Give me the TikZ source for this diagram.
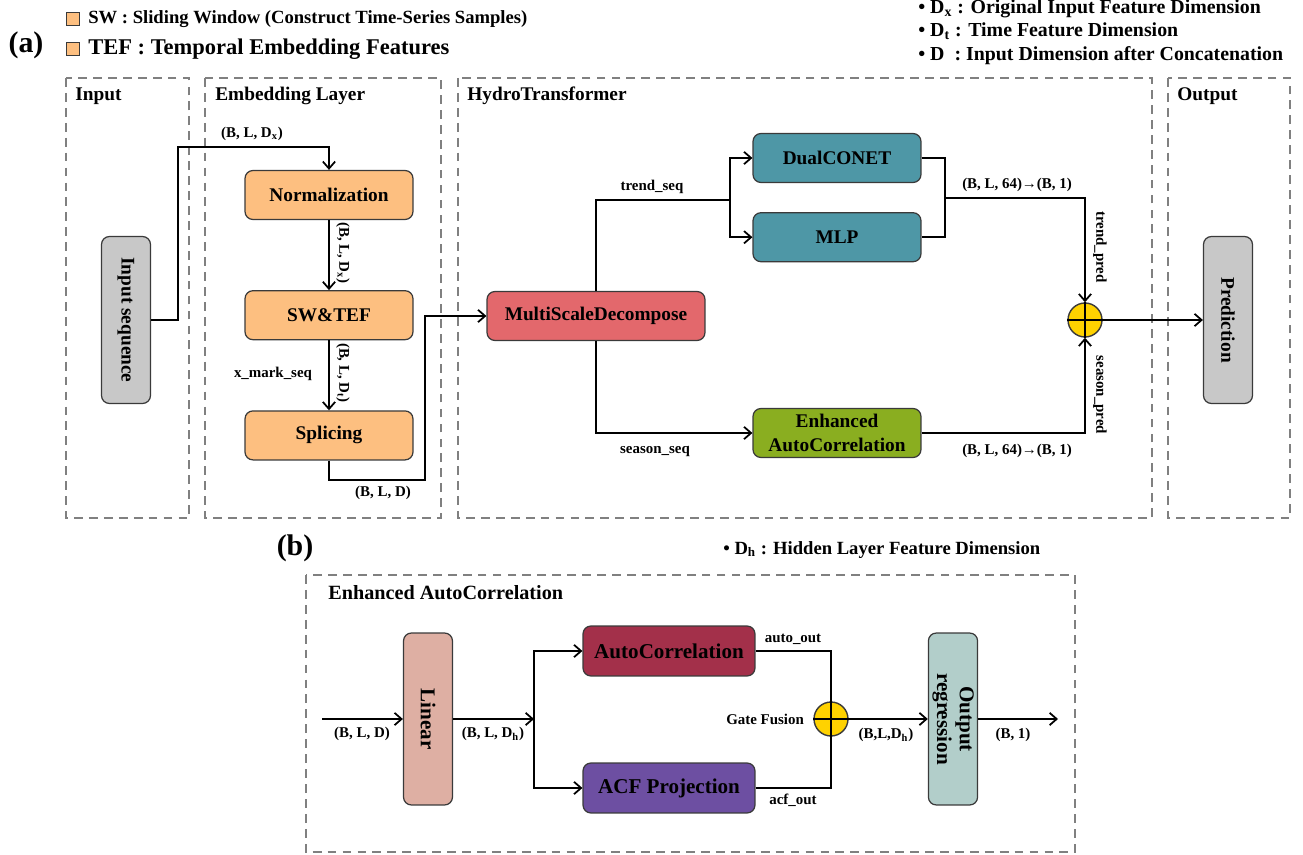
\documentclass[tikz,border=0pt]{standalone}
\usepackage{fontspec}
\setmainfont{Liberation Serif}
\usetikzlibrary{positioning,arrows.meta}
\definecolor{cOrange}{HTML}{FDBF80}
\definecolor{cGray}{HTML}{C8C8C8}
\definecolor{cRed}{HTML}{E3686C}
\definecolor{cTeal}{HTML}{4E97A6}
\definecolor{cGreen}{HTML}{8AAE20}
\definecolor{cYellow}{HTML}{FFD200}
\definecolor{cCrimson}{HTML}{A3304A}
\definecolor{cPurple}{HTML}{6D4FA2}
\definecolor{cPink}{HTML}{DEAFA3}
\definecolor{cMint}{HTML}{B2CECA}
\definecolor{cFrame}{HTML}{808080}
\definecolor{cEdge}{HTML}{3A3A3A}
\tikzset{
  blk/.style={draw=cEdge,line width=0.7pt,rounded corners=4.5pt,align=center,
    font=\fontsize{11}{14}\selectfont\bfseries,minimum width=3.36cm,minimum height=0.98cm,inner sep=1pt},
  vblk/.style={blk,minimum width=0.98cm,minimum height=3.34cm},
  frm/.style={draw=cFrame,line width=1.6pt,dash pattern=on 5pt off 3.5pt},
  ttl/.style={anchor=west,font=\fontsize{11}{13}\selectfont\bfseries,inner sep=0pt},
  lgd/.style={anchor=base west,font=\fontsize{11.3}{13}\selectfont\bfseries,inner sep=0pt},
  lbl/.style={font=\fontsize{8.5}{10}\selectfont\bfseries,inner sep=1pt},
  con/.style={line width=1pt,-{Straight Barb[length=4pt,width=7pt]}},
  wire/.style={line width=1pt},
  plus/.style={circle,draw=cEdge,fill=cYellow,line width=0.8pt,minimum size=0.68cm,inner sep=0pt},
  sq/.style={draw=cEdge,fill=cOrange,line width=0.5pt,minimum size=0.26cm,inner sep=0pt},
}
\begin{document}
\begin{tikzpicture}[x=0.02cm,y=-0.02cm]
\useasboundingbox (0,0) rectangle (1303,855);
% legends
\node[font=\fontsize{17}{20}\selectfont\bfseries] (LA) at (26,45) {(a)};
\node[sq] (LSQ1) at (73,19) {};
\node[ttl,font=\fontsize{10.6}{12}\selectfont\bfseries,right=0.16cm of LSQ1] (LSW) {SW : Sliding Window (Construct Time-Series Samples)};
\node[sq] (LSQ2) at (73,49) {};
\node[ttl,font=\fontsize{12.8}{15}\selectfont\bfseries,right=0.16cm of LSQ2] (LTEF) {TEF : Temporal Embedding Features};
\node[lgd] (LDX) at (918,14) {• D\textsubscript{x} : Original Input Feature Dimension};
\node[lgd] (LDT) at (918,37) {• D\textsubscript{t} : Time Feature Dimension};
\node[lgd] (LD) at (918,61) {• D~ : Input Dimension after Concatenation};
% (a) frames
\draw[frm] (66,78) rectangle (189,518);
\draw[frm] (205,78) rectangle (441,518);
\draw[frm] (458,78) rectangle (1152,518);
\draw[frm] (1168,78) rectangle (1290,518);
\node[ttl] (TIN) at (75,96) {Input};
\node[ttl] (TEMB) at (215,96) {Embedding Layer};
\node[ttl] (THT) at (467,96) {HydroTransformer};
\node[ttl] (TOUT) at (1177,96) {Output};
% (a) nodes
\node[vblk,fill=cGray] (NIN) at (126,320) {\rotatebox{-90}{Input sequence}};
\node[blk,fill=cOrange] (NNORM) at (329,195) {Normalization};
\node[blk,fill=cOrange,below=1.4cm of NNORM] (NSW) {SW\&TEF};
\node[blk,fill=cOrange,below=1.4cm of NSW] (NSPL) {Splicing};
\node[blk,fill=cRed,minimum width=4.36cm] (NMSD) at (596,316) {MultiScaleDecompose};
\node[blk,fill=cTeal] (NDUAL) at (837,158) {DualCONET};
\node[blk,fill=cTeal,below=0.58cm of NDUAL] (NMLP) {MLP};
\node[blk,fill=cGreen] (NEAC) at (837,433) {Enhanced\\AutoCorrelation};
\node[plus] (NADD) at (1085,320) {};
\draw[wire,line width=0.8pt] (NADD.north) -- (NADD.south) (NADD.west) -- (NADD.east);
\node[vblk,fill=cGray] (NPRED) at (1228,320) {\rotatebox{-90}{Prediction}};
% (a) connectors
\coordinate (CA1) at (178,147);
\coordinate (CA2) at (425,480);
\coordinate (CA3) at (730,200);
\coordinate (CA4) at (945,198);
\draw[con] (NIN.east) -| (CA1) -| (NNORM.north);
\draw[con] (NNORM) -- (NSW);
\draw[con] (NSW) -- (NSPL);
\draw[con] (NSPL.south) |- (CA2) |- (NMSD.west);
\draw[wire] (NMSD.north) |- (CA3);
\draw[con] (CA3) |- (NDUAL.west);
\draw[con] (CA3) |- (NMLP.west);
\draw[con] (NMSD.south) |- (NEAC.west);
\draw[wire] (NDUAL.east) -| (CA4) |- (NMLP.east);
\draw[con] (CA4) -| (NADD.north);
\draw[con] (NEAC.east) -| (NADD.south);
\draw[con] (NADD.east) -- (NPRED.west);
% (a) labels
\node[lbl] (LB1) at (252,134) {(B, L, D\textsubscript{x})};
\node[lbl,rotate=-90] (LB2) at (343,253) {(B, L, D\textsubscript{x})};
\node[lbl,rotate=-90] (LB3) at (343,373) {(B, L, D\textsubscript{t})};
\node[lbl] (LB4) at (273,374) {x\_mark\_seq};
\node[lbl] (LB5) at (383,493) {(B, L, D)};
\node[lbl] (LB6) at (652,187) {trend\_seq};
\node[lbl] (LB7) at (655,451) {season\_seq};
\node[lbl] (LB8) at (1017,185) {(B, L, 64)→(B, 1)};
\node[lbl] (LB9) at (1017,451) {(B, L, 64)→(B, 1)};
\node[lbl,rotate=-90] (LB10) at (1100,247) {trend\_pred};
\node[lbl,rotate=-90] (LB11) at (1100,395) {season\_pred};
% (b)
\node[font=\fontsize{17}{20}\selectfont\bfseries] (LBB) at (295,548) {(b)};
\node[lgd,font=\fontsize{10.6}{12}\selectfont\bfseries] (LDH) at (723,554) {• D\textsubscript{h} : Hidden Layer Feature Dimension};
\draw[frm] (306,575) rectangle (1075,852);
\node[ttl,font=\fontsize{11.5}{13}\selectfont\bfseries] (TEAC) at (328,593) {Enhanced AutoCorrelation};
\node[vblk,fill=cPink,minimum height=3.44cm,font=\fontsize{12}{14}\selectfont\bfseries] (NLIN) at (428,719) {\rotatebox{-90}{Linear}};
\node[blk,fill=cCrimson,minimum width=3.44cm,minimum height=1cm,font=\fontsize{12}{14}\selectfont\bfseries] (NAC) at (669,651) {AutoCorrelation};
\node[blk,fill=cPurple,minimum width=3.44cm,minimum height=1cm,font=\fontsize{12}{14}\selectfont\bfseries] (NACF) at (669,788) {ACF Projection};
\node[plus] (NGATE) at (831,719) {};
\draw[wire,line width=0.8pt] (NGATE.north) -- (NGATE.south) (NGATE.west) -- (NGATE.east);
\node[vblk,fill=cMint,minimum height=3.44cm,font=\fontsize{12}{13}\selectfont\bfseries] (NOUT) at (953,719) {\rotatebox{-90}{\begin{tabular}{@{}c@{}}Output\\regression\end{tabular}}};
\coordinate (CB0) at (322,719);
\coordinate (CB1) at (534,719);
\coordinate (CB2) at (1058,719);
\draw[con] (CB0) -- (NLIN.west);
\draw[con] (NLIN.east) -- (CB1);
\draw[con] (CB1) |- (NAC.west);
\draw[con] (CB1) |- (NACF.west);
\draw[wire] (NAC.east) -| (NGATE.north);
\draw[wire] (NACF.east) -| (NGATE.south);
\draw[con] (NGATE.east) -- (NOUT.west);
\draw[con] (NOUT.east) -- (CB2);
\node[lbl] (LB12) at (362,734) {(B, L, D)};
\node[lbl] (LB13) at (493,734) {(B, L, D\textsubscript{h})};
\node[lbl] (LB14) at (793,639) {auto\_out};
\node[lbl] (LB15) at (793,800) {acf\_out};
\node[lbl,anchor=east] (LB16) at (806,719) {Gate Fusion};
\node[lbl] (LB17) at (886,735) {(B,L,D\textsubscript{h})};
\node[lbl] (LB18) at (1013,735) {(B, 1)};
\end{tikzpicture}
\end{document}
